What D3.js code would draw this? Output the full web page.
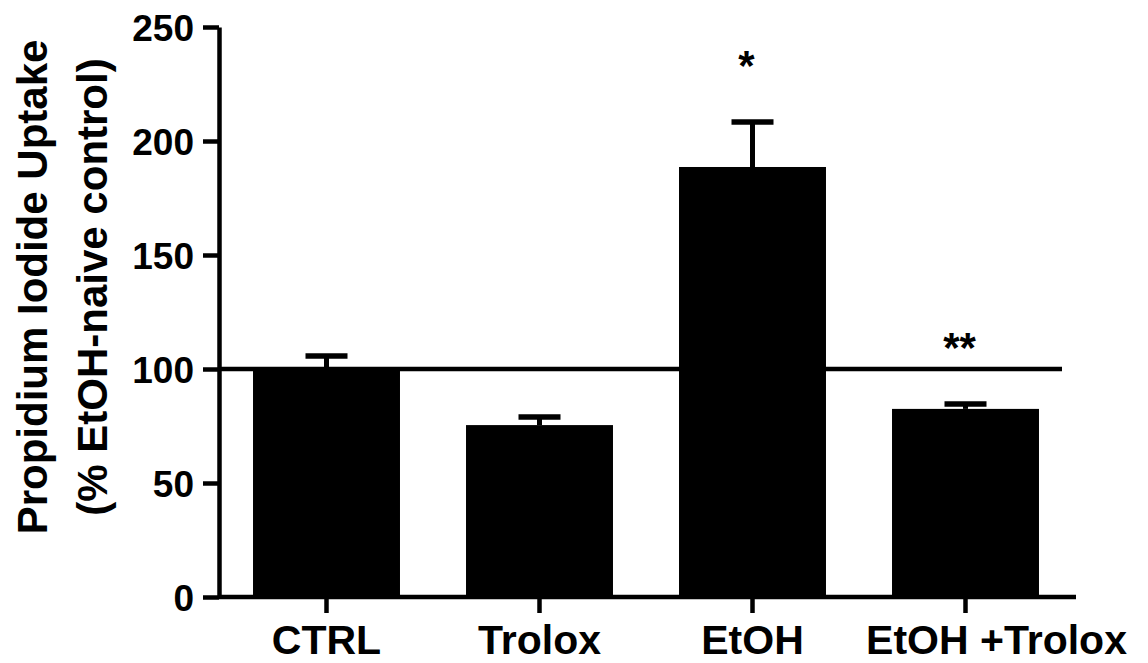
<!DOCTYPE html>
<html>
<head>
<meta charset="utf-8">
<script src="https://cdn.jsdelivr.net/npm/d3@7"></script>
<style>
  html, body { margin: 0; padding: 0; background: #fff; }
  svg { display: block; font-family: "Liberation Sans", Arial, sans-serif; font-weight: bold; }
</style>
</head>
<body>
<svg id="chart" width="1148" height="663"></svg>
<script>
  const groups = ["CTRL", "Trolox", "EtOH", "EtOH +Trolox"];
  const means = [100, 75.4, 188.6, 82.5];
  const sems = [5.7, 3.5, 19.7, 2.1];
  const marks = ["", "", "*", "**"];
  const yTicks = [0, 50, 100, 150, 200, 250];
  const reference = 100;
  const yTitle = ["Propidium Iodide Uptake", "(% EtOH-naive control)"];

  const svg = d3.select("#chart");
  const axisLeftX = 219;
  const baseY = 597;
  const topY = 27;

  const y = d3.scaleLinear().domain([0, 250]).range([baseY, topY]);
  const x = d3.scaleBand()
    .domain(groups)
    .range([220, 1072])
    .paddingInner(0.31)
    .paddingOuter(0.155);

  // bars
  svg.append("g")
    .selectAll("rect")
    .data(groups)
    .join("rect")
    .attr("x", (d) => x(d))
    .attr("width", x.bandwidth())
    .attr("y", (d, i) => y(means[i]))
    .attr("height", (d, i) => baseY - y(means[i]))
    .attr("fill", "#000");

  // error bars (upper only)
  const err = svg.append("g").attr("stroke", "#000");
  err.selectAll("line.stem")
    .data(groups)
    .join("line")
    .attr("class", "stem")
    .attr("x1", (d) => x(d) + x.bandwidth() / 2)
    .attr("x2", (d) => x(d) + x.bandwidth() / 2)
    .attr("y1", (d, i) => y(means[i]))
    .attr("y2", (d, i) => y(means[i] + sems[i]))
    .attr("stroke-width", 5);
  err.selectAll("line.cap")
    .data(groups)
    .join("line")
    .attr("class", "cap")
    .attr("x1", (d) => x(d) + x.bandwidth() / 2 - 21)
    .attr("x2", (d) => x(d) + x.bandwidth() / 2 + 21)
    .attr("y1", (d, i) => y(means[i] + sems[i]))
    .attr("y2", (d, i) => y(means[i] + sems[i]))
    .attr("stroke-width", 5.5);

  // reference line at 100 %
  svg.append("line")
    .attr("x1", axisLeftX)
    .attr("x2", 1062)
    .attr("y1", y(reference))
    .attr("y2", y(reference))
    .attr("stroke", "#000")
    .attr("stroke-width", 4.5);

  // significance marks
  svg.append("g")
    .selectAll("text")
    .data(groups)
    .join("text")
    .attr("x", (d) => x(d) + x.bandwidth() / 2 - 6)
    .attr("y", (d, i) => y(means[i] + sems[i]) - 42)
    .attr("text-anchor", "middle")
    .attr("font-size", 42)
    .text((d, i) => marks[i]);

  // y axis
  const yAxis = svg.append("g")
    .attr("transform", `translate(${axisLeftX},0)`)
    .call(d3.axisLeft(y).tickValues(yTicks).tickSize(16).tickSizeOuter(0).tickPadding(9));
  yAxis.select(".domain").attr("stroke-width", 4.5);
  yAxis.selectAll(".tick line").attr("stroke-width", 4.5);
  yAxis.selectAll(".tick text")
    .attr("font-size", 37)
    .attr("font-family", "Liberation Sans, Arial, sans-serif")
    .attr("font-weight", "bold")
    .attr("dy", "0.36em")
    .attr("fill", "#000");

  // x axis
  const xAxis = svg.append("g")
    .attr("transform", `translate(0,${baseY})`)
    .call(d3.axisBottom(x).tickSize(16).tickSizeOuter(0).tickPadding(12));
  xAxis.select(".domain").remove();
  xAxis.append("line")
    .attr("x1", axisLeftX)
    .attr("x2", x.range()[1] + 4)
    .attr("stroke", "#000")
    .attr("stroke-width", 4.5);
  xAxis.selectAll(".tick line").attr("stroke-width", 4.5);
  xAxis.selectAll(".tick text")
    .attr("font-size", 41)
    .attr("font-family", "Liberation Sans, Arial, sans-serif")
    .attr("font-weight", "bold")
    .attr("fill", "#000")
    .attr("dy", "0.71em")
    .attr("dx", (d) => (d === "EtOH +Trolox" ? 31 : 0));

  // y title
  svg.append("g")
    .attr("transform", "translate(0,287) rotate(-90)")
    .selectAll("text")
    .data(yTitle)
    .join("text")
    .attr("x", 0)
    .attr("y", (d, i) => 47 + i * 60)
    .attr("text-anchor", "middle")
    .attr("font-size", 42)
    .text((d) => d);
</script>
</body>
</html>
